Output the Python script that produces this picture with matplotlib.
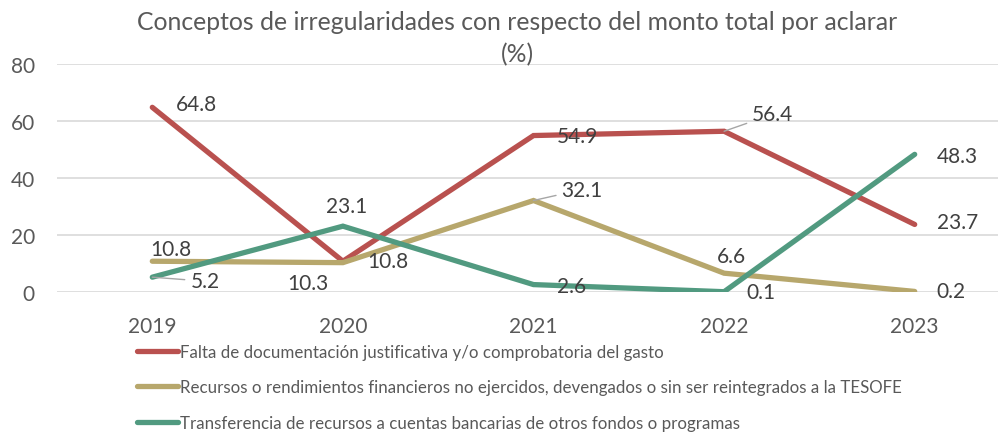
import matplotlib as mpl
import matplotlib.pyplot as plt

years = ["2019", "2020", "2021", "2022", "2023"]

falta = [64.8, 10.8, 54.9, 56.4, 23.7]
recursos = [10.8, 10.3, 32.1, 6.6, 0.2]
transferencia = [5.2, 23.1, 2.6, 0.1, 48.3]

labels = [
    "Falta de documentación justificativa y/o comprobatoria del gasto",
    "Recursos o rendimientos financieros no ejercidos, devengados o sin ser reintegrados a la TESOFE",
    "Transferencia de recursos a cuentas bancarias de otros fondos o programas",
]
colors = ["#B9514F", "#B7A76C", "#519A80"]

# label offsets in pixels (dx, dy), alignment, leader line
lab_red = [(24, 3, "left", False), (24, 0, "left", False), (23, 0, "left", False),
           (28, 17, "left", True), (22, 2, "left", False)]
lab_tan = [(-2, 12, "left", False), (-56, -20, "left", False), (28, 11, "left", True),
           (7, 17, "center", False), (22, 0, "left", False)]
lab_grn = [(38, -4, "left", True), (4, 20, "center", False), (23, -1, "left", False),
           (22, 0, "left", False), (22, -2, "left", False)]

plt.rcParams["font.family"] = ["Lato", "DejaVu Sans"]

fig = plt.figure(figsize=(9.98, 4.35), dpi=100)
ax = fig.add_axes([57 / 998, 1 - 293 / 435, 953 / 998, 228 / 435])

x = list(range(len(years)))
series = [falta, recursos, transferencia]
offs = [lab_red, lab_tan, lab_grn]
for vals, col, lab, off in zip(series, colors, labels, offs):
    ax.plot(x, vals, color=col, linewidth=3.8, solid_capstyle="round",
            solid_joinstyle="miter", label=lab, zorder=3)
    for xi, v, (dx, dy, ha, lead) in zip(x, vals, off):
        ap = None
        if lead:
            ap = dict(arrowstyle="-", color="#A6A6A6", lw=1, shrinkA=2, shrinkB=0)
        ax.annotate(f"{v:.1f}", (xi, v), xytext=(dx, dy), textcoords="offset pixels",
                    ha=ha, va="center", fontsize=15, color="#404040",
                    arrowprops=ap, zorder=4)

ax.set_xlim(-0.5, 4.5)
ax.set_ylim(0, 80)
ax.set_yticks([0, 20, 40, 60, 80])
ax.set_xticks(x)
ax.set_xticklabels(years)
ax.tick_params(length=0, labelsize=15, colors="#595959")
ax.tick_params(axis="x", pad=17)
ax.tick_params(axis="y", pad=16)
ax.grid(axis="y", color="#D9D9D9", linewidth=1.2)
ax.set_axisbelow(True)
for s in ax.spines.values():
    s.set_visible(False)

fig.text(517 / 998, 1 - 22 / 435, "Conceptos de irregularidades con respecto del monto total por aclarar",
         ha="center", va="center", fontsize=17.8, color="#595959")
fig.text(517 / 998, 1 - 55 / 435, "(%)", ha="center", va="center", fontsize=17.8, color="#595959")

fig.legend(loc="upper left", bbox_to_anchor=(130 / 998, 1 - 338 / 435), frameon=False,
           fontsize=12.2, labelcolor="#595959", handlelength=2.45, handletextpad=0.1,
           labelspacing=1.15, borderaxespad=0)

plt.savefig("out.png", dpi=100)
